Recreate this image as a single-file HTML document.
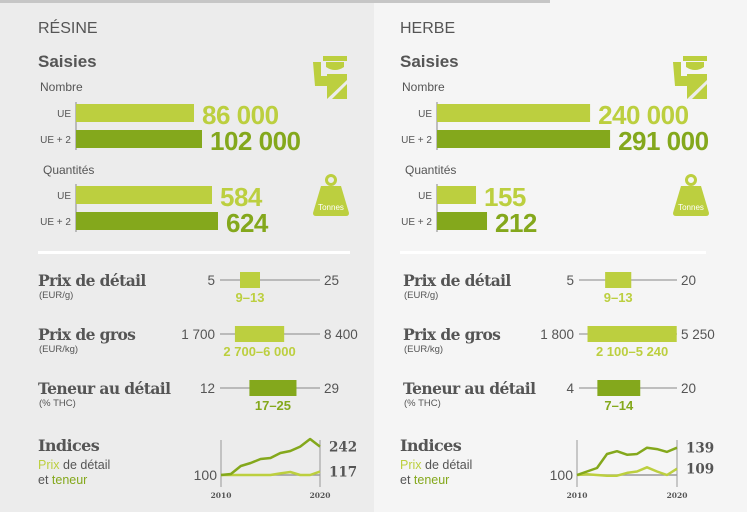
<!DOCTYPE html>
<html><head><meta charset="utf-8"><style>
html,body{margin:0;padding:0;width:747px;height:512px;overflow:hidden;background:#f5f5f5}
svg{display:block}
.sans{font-family:"Liberation Sans",sans-serif}
.slab{font-family:"DejaVu Serif",serif;font-weight:bold}
</style></head><body>
<svg id="root" width="747" height="512" viewBox="0 0 747 512" xmlns="http://www.w3.org/2000/svg">
<rect x="0" y="0" width="374" height="512" fill="#ececec"/>
<rect x="374" y="0" width="373" height="512" fill="#f5f5f5"/>
<rect x="0" y="0" width="550" height="3" fill="#c6c6c6"/>
<rect x="38" y="251" width="312" height="3" fill="#ffffff"/>
<rect x="400" y="251" width="306" height="3" fill="#ffffff"/>
<g id="content"></g>
</svg>
<script>
// ---- data ----
const panels = ['RÉSINE', 'HERBE'];
const barCats = ['UE', 'UE + 2'];
const nombreValues = [[86000, 102000], [240000, 291000]];
const nombreLabels = [['86 000', '102 000'], ['240 000', '291 000']];
const quantValues = [[584, 624], [155, 212]];
const quantLabels = [['584', '624'], ['155', '212']];
const rangeTitles = ['Prix de détail', 'Prix de gros', 'Teneur au détail'];
const rangeUnits = ['(EUR/g)', '(EUR/kg)', '(% THC)'];
const rangeMin = [[5, 1700, 12], [5, 1800, 4]];
const rangeMax = [[25, 8400, 29], [20, 5250, 20]];
const rangeLow = [[9, 2700, 17], [9, 2100, 7]];
const rangeHigh = [[13, 6000, 25], [13, 5240, 14]];
const minLabels = [['5', '1 700', '12'], ['5', '1 800', '4']];
const maxLabels = [['25', '8 400', '29'], ['20', '5 250', '20']];
const boxLabels = [['9–13', '2 700–6 000', '17–25'], ['9–13', '2 100–5 240', '7–14']];
const years = [2010, 2011, 2012, 2013, 2014, 2015, 2016, 2017, 2018, 2019, 2020];
const teneurIdx = [[100, 105, 145, 160, 180, 185, 210, 220, 242, 280, 242], [100, 105, 110, 130, 134, 129, 130, 139, 137, 133, 139]];
const prixIdx = [[100, 100, 100, 100, 100, 100, 108, 115, 100, 100, 117], [100, 101, 100, 99, 99, 103, 105, 111, 105, 100, 109]];
const endLabels = [['242', '117'], ['139', '109']];

const LIGHT = '#bccf3f', DARK = '#84a81c', TXT = '#555555';
const NS = 'http://www.w3.org/2000/svg';
const root = document.getElementById('content');
function mk(tag, attrs, parent, text) {
  const e = document.createElementNS(NS, tag);
  for (const k in attrs) e.setAttribute(k, attrs[k]);
  if (text !== undefined) e.textContent = text;
  (parent || root).appendChild(e);
  return e;
}
// per-panel layout (not data)
const L = [
  {tx: 38, axis: 76, rtx: 38, lineX: [220, 320], idxX: [221, 320], idxK: 0.2, icon: 313},
  {tx: 400, axis: 437, rtx: 403, lineX: [579, 677], idxX: [577, 677], idxK: 0.7, icon: 673}
];
// bar scales: width = base + k * v
const nScale = [[75, 0.0005], [59, 0.000392]];
const qScale = [[48.4, 0.15], [9.1, 0.193]];

panels.forEach((p, i) => {
  const lay = L[i];
  const g = mk('g', {});
  
  
  let t = mk('text', {x: lay.tx, y: 33, class: 'sans', 'font-size': 16, fill: TXT}, g, p);
  
  
  t = mk('text', {x: lay.tx, y: 67, class: 'sans', 'font-size': 17, 'font-weight': 'bold', fill: TXT}, g, 'Saisies');
  
  
  t = mk('text', {x: lay.tx + 2, y: 91, class: 'sans', 'font-size': 12, fill: TXT}, g, 'Nombre');
  
  
  t = mk('text', {x: lay.tx + 5, y: 174, class: 'sans', 'font-size': 12, fill: TXT}, g, 'Quantités');
  
  

  const groups = [[nombreValues[i], nombreLabels[i], nScale[i], 104, 'nombre'], [quantValues[i], quantLabels[i], qScale[i], 186, 'quantite']];
  groups.forEach(([vals, labs, sc, y0, nm]) => {
    const ax = mk('line', {x1: lay.axis, x2: lay.axis, y1: y0 - 2, y2: y0 + 46, stroke: '#888', 'stroke-width': 1}, g);
    
    
    vals.forEach((v, j) => {
      const w = sc[0] + sc[1] * v;
      const y = y0 + j * 26;
      const col = j ? DARK : LIGHT;
      const r = mk('rect', {x: lay.axis, y: y, width: w, height: 18, fill: col}, g);
      
      
      const c = mk('text', {x: lay.axis - 5, y: y + 13, 'text-anchor': 'end', class: 'sans', 'font-size': 10, fill: TXT}, g, barCats[j]);
      
      
      const vl = mk('text', {x: lay.axis + w + 8, y: y + 20, class: 'sans', 'font-size': 26, 'font-weight': 'bold', fill: col, 'letter-spacing': '-0.5'}, g, labs[j]);
      
      
    });
  });

  // icons
  const ic = mk('g', {transform: 'translate(' + lay.icon + ',56)', fill: LIGHT}, g);
  
  
  mk('rect', {x: 10, y: 0, width: 24, height: 5}, ic);
  mk('path', {d: 'M13 6 H31 V11 Q22 17 13 11 Z'}, ic);
  mk('path', {d: 'M0 6 H8 V20 H14 V18 H34 V43 H14 V30 H2 Z'}, ic);
  mk('path', {d: 'M14 43 L34 24 V28 L19 43 Z', fill: '#ececec'}, ic);
  const wt = mk('g', {transform: 'translate(' + lay.icon + ',174)'}, g);
  
  
  mk('circle', {cx: 18, cy: 6, r: 4.5, fill: 'none', stroke: LIGHT, 'stroke-width': 3}, wt);
  mk('path', {d: 'M8 12 H28 L36 39 Q36 42 33 42 H3 Q0 42 0 39 Z', fill: LIGHT}, wt);
  mk('text', {x: 18, y: 36, 'text-anchor': 'middle', class: 'sans', 'font-size': 8, fill: '#fff'}, wt, 'Tonnes');

  // range rows
  rangeTitles.forEach((rt, k) => {
    const y = 280 + k * 54;
    const col = k === 2 ? DARK : LIGHT;
    let tt = mk('text', {x: lay.rtx, y: y + 6, class: 'slab', 'font-size': 15.5, fill: TXT, 'letter-spacing': '-0.6'}, g, rt);
    
    
    tt = mk('text', {x: lay.rtx + 1, y: y + 18, class: 'sans', 'font-size': 9.5, fill: TXT}, g, rangeUnits[k]);
    
    
    const mn = rangeMin[i][k], mx = rangeMax[i][k];
    const sx = v => lay.lineX[0] + (v - mn) / (mx - mn) * (lay.lineX[1] - lay.lineX[0]);
    const ln = mk('line', {x1: sx(mn), x2: sx(mx), y1: y, y2: y, stroke: '#888', 'stroke-width': 1}, g);
    
    
    const bx = mk('rect', {x: sx(rangeLow[i][k]), y: y - 8, width: sx(rangeHigh[i][k]) - sx(rangeLow[i][k]), height: 16, fill: col}, g);
    
    
    tt = mk('text', {x: lay.lineX[0] - 5, y: y + 5, 'text-anchor': 'end', class: 'sans', 'font-size': 13.5, fill: TXT}, g, minLabels[i][k]);
    
    
    tt = mk('text', {x: lay.lineX[1] + 4, y: y + 5, class: 'sans', 'font-size': 13.5, fill: TXT}, g, maxLabels[i][k]);
    
    
    tt = mk('text', {x: (sx(rangeLow[i][k]) + sx(rangeHigh[i][k])) / 2, y: y + 22, 'text-anchor': 'middle', class: 'sans', 'font-size': 13, 'font-weight': 'bold', fill: col}, g, boxLabels[i][k]);
    
    
  });

  // indices
  let it = mk('text', {x: lay.tx, y: 451, class: 'slab', 'font-size': 16, fill: TXT, 'letter-spacing': '-0.6'}, g, 'Indices');
  
  
  it = mk('text', {x: lay.tx, y: 469, class: 'sans', 'font-size': 12.5, fill: TXT}, g);
  
  
  mk('tspan', {fill: LIGHT}, it, 'Prix');
  mk('tspan', {}, it, ' de détail');
  it = mk('text', {x: lay.tx, y: 484, class: 'sans', 'font-size': 12.5, fill: TXT}, g);
  
  
  mk('tspan', {}, it, 'et ');
  mk('tspan', {fill: DARK}, it, 'teneur');

  const xs = yr => lay.idxX[0] + (yr - years[0]) / (years[years.length - 1] - years[0]) * (lay.idxX[1] - lay.idxX[0]);
  const ys = v => 475 - (v - 100) * lay.idxK;
  const cg = mk('g', {}, g);
  
  
  [years[0], years[years.length - 1]].forEach(yr => {
    const a = mk('line', {x1: xs(yr), x2: xs(yr), y1: 440, y2: 487, stroke: '#999', 'stroke-width': 1}, cg);
    
    
    const tl = mk('text', {x: xs(yr), y: 498, 'text-anchor': 'middle', class: 'slab', 'font-size': 7.5, fill: TXT}, cg, String(yr));
    
    
  });
  const bl = mk('line', {x1: xs(years[0]), x2: xs(years[years.length - 1]), y1: ys(100), y2: ys(100), stroke: '#999', 'stroke-width': 1.5}, cg);
  
  
  const bt = mk('text', {x: xs(years[0]) - 4, y: ys(100) + 5, 'text-anchor': 'end', class: 'sans', 'font-size': 14, fill: TXT}, cg, '100');
  
  
  [[prixIdx[i], LIGHT, 'prix-line'], [teneurIdx[i], DARK, 'teneur-line']].forEach(([arr, col, nm]) => {
    const pl = mk('polyline', {points: arr.map((v, j) => xs(years[j]) + ',' + ys(v)).join(' '), fill: 'none', stroke: col, 'stroke-width': 2.5, 'stroke-linejoin': 'round'}, cg);
    
    
  });
  const endX = xs(years[years.length - 1]) + 9;
  let ly1 = ys(teneurIdx[i][teneurIdx[i].length - 1]) + 5;
  let ly2 = ys(prixIdx[i][prixIdx[i].length - 1]) + 5;
  if (ly2 - ly1 < 20) ly1 = ly2 - 22;
  let e = mk('text', {x: endX, y: ly1, class: 'slab', 'font-size': 13.5, fill: TXT}, cg, endLabels[i][0]);
  
  
  e = mk('text', {x: endX, y: ly2, class: 'slab', 'font-size': 13.5, fill: TXT}, cg, endLabels[i][1]);
  
  
});
</script>
</body></html>
